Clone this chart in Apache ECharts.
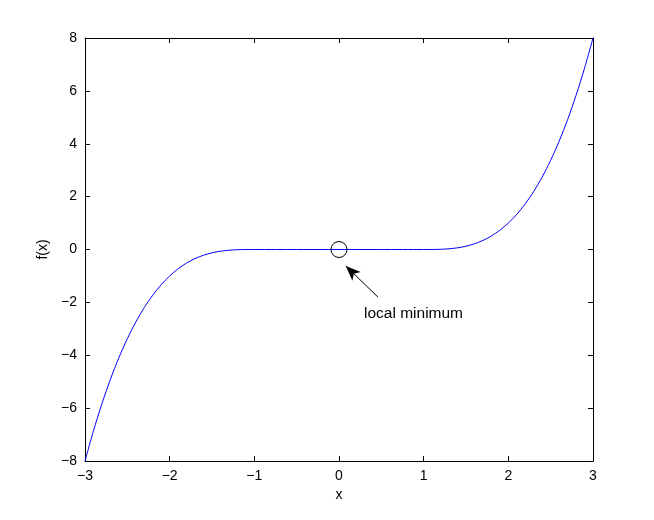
<!DOCTYPE html>
<html>
<head>
<meta charset="utf-8">
<script src="https://cdn.jsdelivr.net/npm/echarts@6/dist/echarts.min.js"></script>
<style>html,body{margin:0;padding:0;background:#fff}#c{width:654px;height:520px}</style>
</head>
<body>
<div id="c"></div>
<script>
var xValues = [-3.0,-2.9,-2.8,-2.7,-2.6,-2.5,-2.4,-2.3,-2.2,-2.1,-2.0,-1.9,-1.8,-1.7,-1.6,-1.5,-1.4,-1.3,-1.2,-1.1,-1.0,
  -0.5,0.0,0.5,
  1.0,1.1,1.2,1.3,1.4,1.5,1.6,1.7,1.8,1.9,2.0,2.1,2.2,2.3,2.4,2.5,2.6,2.7,2.8,2.9,3.0];
var fValues = [-8,-6.859,-5.832,-4.913,-4.096,-3.375,-2.744,-2.197,-1.728,-1.331,-1,-0.729,-0.512,-0.343,-0.216,-0.125,-0.064,-0.027,-0.008,-0.001,0,
  0,0,0,
  0,0.001,0.008,0.027,0.064,0.125,0.216,0.343,0.512,0.729,1,1.331,1.728,2.197,2.744,3.375,4.096,4.913,5.832,6.859,8];
var xTicks = [-3,-2,-1,0,1,2,3];
var yTicks = [-8,-6,-4,-2,0,2,4,6,8];
var minimumPoint = [0, 0];
var arrowFrom = [0.46, -1.80];
var arrowTo = [0.08, -0.62];
var annotationPos = [0.88, -2.42];
var annotationText = 'local minimum';

var pts = xValues.map(function(x,i){return [x,fValues[i]];});
var font = '"Liberation Sans", Arial, Helvetica, sans-serif';
function fmt(v){ return String(v).replace('-', '\u2212'); }
var axLine = {show:true, onZero:false, lineStyle:{color:'#000', width:1}};
var tick = {show:true, inside:true, length:5, lineStyle:{color:'#000', width:1}};

var chart = echarts.init(document.getElementById('c'), null, {renderer:'canvas'});
chart.setOption({
  animation:false,
  backgroundColor:'#fff',
  grid:{left:85, top:38, width:508, height:423},
  xAxis:[
    {type:'value', min:xTicks[0], max:xTicks[xTicks.length-1], interval:1, position:'bottom',
     name:'x', nameLocation:'middle', nameGap:27, nameTextStyle:{fontFamily:font, fontSize:14, color:'#000'},
     axisLine:axLine, axisTick:tick, splitLine:{show:false},
     axisLabel:{fontFamily:font, fontSize:14, color:'#000', margin:8, formatter:fmt}},
    {type:'value', min:xTicks[0], max:xTicks[xTicks.length-1], interval:1, position:'top',
     axisLine:axLine, axisTick:tick, splitLine:{show:false}, axisLabel:{show:false}}
  ],
  yAxis:[
    {type:'value', min:yTicks[0], max:yTicks[yTicks.length-1], interval:2, position:'left',
     name:'f(x)', nameLocation:'middle', nameGap:32, nameRotate:90, nameTextStyle:{fontFamily:font, fontSize:14, color:'#000'},
     axisLine:axLine, axisTick:tick, splitLine:{show:false},
     axisLabel:{fontFamily:font, fontSize:14, color:'#000', margin:8, formatter:fmt}},
    {type:'value', min:yTicks[0], max:yTicks[yTicks.length-1], interval:2, position:'right',
     axisLine:axLine, axisTick:tick, splitLine:{show:false}, axisLabel:{show:false}}
  ],
  series:[
    {type:'line', data:pts, smooth:0.3, showSymbol:false, lineStyle:{color:'#0000ff', width:1}, z:2,
     markPoint:{
       symbolKeepAspect:true,
       data:[
         {coord:minimumPoint, symbol:'circle', symbolSize:16, itemStyle:{color:'rgba(0,0,0,0)', borderColor:'#000', borderWidth:1}, label:{show:false}},
         {coord:annotationPos, symbol:'circle', symbolSize:0, label:{show:true, position:'inside', formatter:annotationText, fontFamily:font, fontSize:15.5, color:'#000'}}
       ]
     },
     markLine:{
       silent:true, symbol:['none','arrow'], symbolSize:[9,15],
       lineStyle:{color:'#000', width:1, type:'solid'}, label:{show:false},
       data:[[{coord:arrowFrom},{coord:arrowTo}]]
     }
    }
  ]
});
</script>
</body>
</html>
